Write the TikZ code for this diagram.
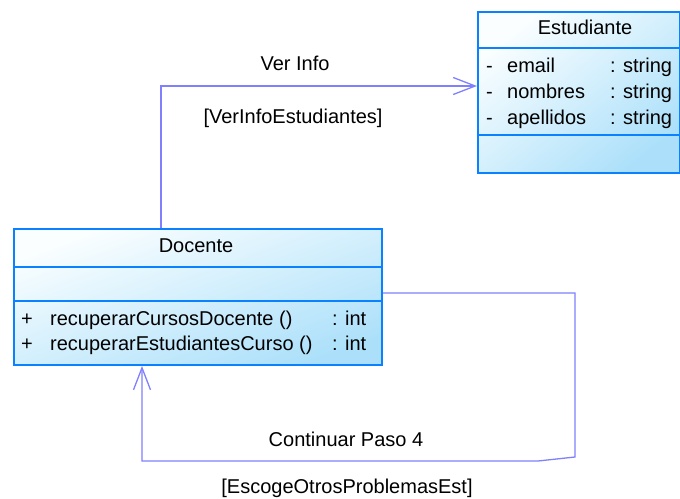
\documentclass[tikz,border=0pt]{standalone}
\usepackage{fontspec}
\setmainfont{Liberation Sans}
\usetikzlibrary{arrows.meta}
\definecolor{clsborder}{RGB}{10,130,255}
\definecolor{clslight}{RGB}{250,254,255}
\definecolor{clsdark}{RGB}{172,224,250}
\definecolor{connc}{RGB}{128,128,255}
\tikzset{
  cls/.style={draw=clsborder, line width=2pt, rectangle, inner sep=0pt, anchor=north west,
    top color=clslight, bottom color=clsdark},
  clsline/.style={draw=clsborder, line width=2pt},
  conn/.style={draw=connc, line width=1.3pt, -{Straight Barb[length=22pt,width=17pt,line width=1.3pt]}},
  txt/.style={inner sep=0pt, anchor=base west, font=\fontsize{20}{24}\selectfont},
  lbl/.style={inner sep=0pt, anchor=base, font=\fontsize{20}{24}\selectfont},
}
\begin{document}
\begin{tikzpicture}[x=1pt,y=-1pt]
\useasboundingbox (0,0) rectangle (680,498);
% Estudiante
\node[cls, shading angle=39, minimum width=202pt, minimum height=161pt] (est) at (477,11) {};
\draw[clsline] (est.west |- 0,48) -- (est.east |- 0,48);
\draw[clsline] (est.west |- 0,135) -- (est.east |- 0,135);
\node[lbl] (estt) at (585,34) {Estudiante};
\node[txt] (ea1) at (486,72) {-};
\node[txt] (ea2) at (507,72) {email};
\node[txt] (ea3) at (610,72) {: string};
\node[txt] (eb1) at (486,98) {-};
\node[txt] (eb2) at (507,98) {nombres};
\node[txt] (eb3) at (610,98) {: string};
\node[txt] (ec1) at (486,124) {-};
\node[txt] (ec2) at (507,124) {apellidos};
\node[txt] (ec3) at (610,124) {: string};
% Docente
\node[cls, shading angle=20, minimum width=368pt, minimum height=136pt] (doc) at (13,228) {};
\draw[clsline] (doc.west |- 0,267) -- (doc.east |- 0,267);
\draw[clsline] (doc.west |- 0,301) -- (doc.east |- 0,301);
\node[lbl] (doct) at (196,252) {Docente};
\node[txt] (da1) at (21,325) {+};
\node[txt] (da2) at (50,325) {recuperarCursosDocente ()};
\node[txt] (da3) at (332,325) {: int};
\node[txt] (db1) at (21,350) {+};
\node[txt] (db2) at (50,350) {recuperarEstudiantesCurso ()};
\node[txt] (db3) at (332,350) {: int};
% connector 1
\coordinate (b1) at (161,86);
\draw[conn] (b1 |- doc.north) -- (b1) -- (b1 -| est.west);
\node[lbl] (l1) at (295,70) {Ver Info};
\node[lbl] (l2) at (293,123) {[VerInfoEstudiantes]};
% connector 2
\coordinate (r1) at (575,293);
\coordinate (r2) at (575,457);
\coordinate (r3) at (538,461);
\coordinate (r4) at (142,461);
\draw[conn] (r1 -| doc.east) -- (r1) -- (r2) -- (r3) -- (r4) -- (r4 |- doc.south);
\node[lbl] (l3) at (346,446) {Continuar Paso 4};
\node[lbl] (l4) at (347,493) {[EscogeOtrosProblemasEst]};
\end{tikzpicture}
\end{document}
